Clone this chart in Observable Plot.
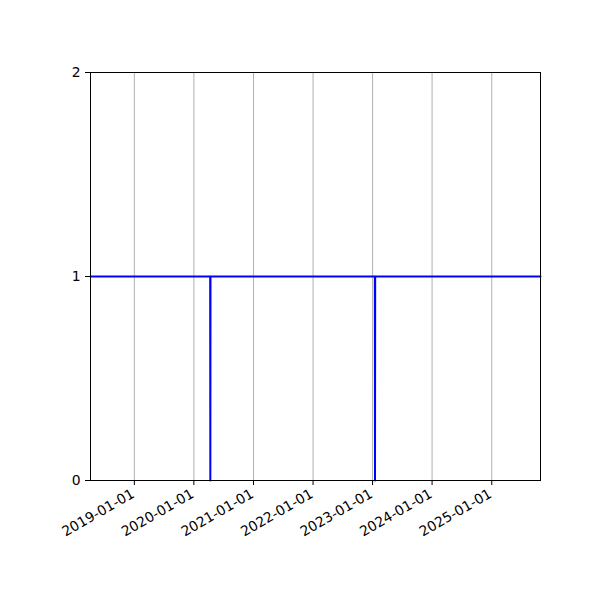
<!DOCTYPE html>
<html><head><meta charset="utf-8">
<script src="https://cdn.jsdelivr.net/npm/d3@7"></script>
<script src="https://cdn.jsdelivr.net/npm/@observablehq/plot@0.6"></script>
<style>body{margin:0;background:#fff}</style>
</head><body><div id="chart"></div>
<script>
const dates = ["2018-04-07","2020-04-10","2020-04-11","2020-04-12","2023-01-15","2023-01-16","2023-01-17","2025-10-27"];
const values = [1,1,0,1,1,0,1,1];
const xTicks = ["2019-01-01","2020-01-01","2021-01-01","2022-01-01","2023-01-01","2024-01-01","2025-01-01"];
const yTicks = [0,1,2];
const xDomain = ["2018-04-07","2025-10-27"];

const data = dates.map((d,i)=>({date:new Date(d+"T00:00:00Z"), value:values[i]}));
const ticks = xTicks.map(d=>new Date(d+"T00:00:00Z"));
const fmt = d3.utcFormat("%Y-%m-%d");

const plot = Plot.plot({
  width:600, height:600,
  marginLeft:90, marginRight:60, marginTop:72, marginBottom:120,
  style:{fontFamily:"DejaVu Sans", fontSize:"13.9px", color:"black", background:"white"},
  x:{type:"utc", domain:xDomain.map(d=>new Date(d+"T00:00:00Z"))},
  y:{domain:[0,2]},
  marks:[
    Plot.gridX(ticks,{stroke:"#b0b0b0", strokeOpacity:1, strokeWidth:1}),
    Plot.line(data,{x:"date", y:"value", stroke:"blue", strokeWidth:2, curve:"linear"}),
    Plot.frame({stroke:"black", strokeWidth:1}),
    Plot.axisX(ticks,{tickSize:5, tickFormat:()=>"", label:null}),
    Plot.text(ticks,{x:d=>d, y:()=>0, text:d=>fmt(d), rotate:-30, textAnchor:"end", lineAnchor:"bottom", dy:16, dx:1, fontSize:13.9, fill:"black"}),
    Plot.axisY(yTicks,{tickSize:5, tickPadding:5, tickFormat:d3.format("d"), label:null, fontSize:13.9})
  ]
});
document.getElementById("chart").appendChild(plot);
</script></body></html>
